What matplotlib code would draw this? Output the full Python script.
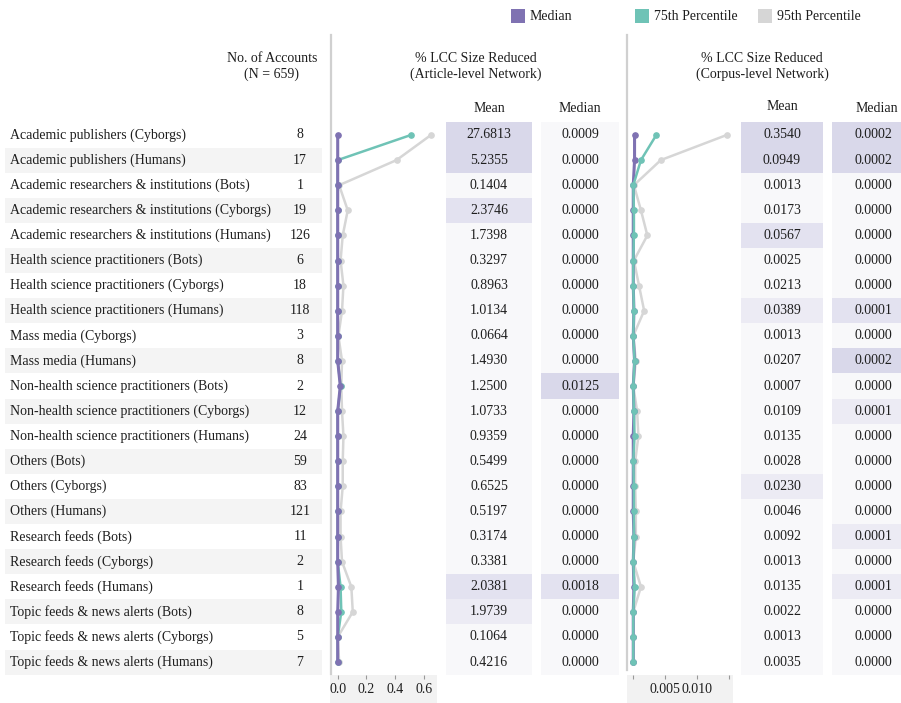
import matplotlib
matplotlib.use("Agg")
import matplotlib.pyplot as plt
from matplotlib.patches import Rectangle

plt.rcParams['font.family'] = ['Liberation Serif', 'DejaVu Serif']

# data
labels = [
    "Academic publishers (Cyborgs)", "Academic publishers (Humans)",
    "Academic researchers & institutions (Bots)", "Academic researchers & institutions (Cyborgs)",
    "Academic researchers & institutions (Humans)", "Health science practitioners (Bots)",
    "Health science practitioners (Cyborgs)", "Health science practitioners (Humans)",
    "Mass media (Cyborgs)", "Mass media (Humans)",
    "Non-health science practitioners (Bots)", "Non-health science practitioners (Cyborgs)",
    "Non-health science practitioners (Humans)", "Others (Bots)", "Others (Cyborgs)",
    "Others (Humans)", "Research feeds (Bots)", "Research feeds (Cyborgs)",
    "Research feeds (Humans)", "Topic feeds & news alerts (Bots)",
    "Topic feeds & news alerts (Cyborgs)", "Topic feeds & news alerts (Humans)",
]
counts = [8, 17, 1, 19, 126, 6, 18, 118, 3, 8, 2, 12, 24, 59, 83, 121, 11, 2, 1, 8, 5, 7]

article_mean = [27.6813, 5.2355, 0.1404, 2.3746, 1.7398, 0.3297, 0.8963, 1.0134, 0.0664, 1.4930, 1.2500,
                1.0733, 0.9359, 0.5499, 0.6525, 0.5197, 0.3174, 0.3381, 2.0381, 1.9739, 0.1064, 0.4216]
article_median = [0.0009, 0, 0, 0, 0, 0, 0, 0, 0, 0, 0.0125, 0, 0, 0, 0, 0, 0, 0, 0.0018, 0, 0, 0]
corpus_mean = [0.3540, 0.0949, 0.0013, 0.0173, 0.0567, 0.0025, 0.0213, 0.0389, 0.0013, 0.0207, 0.0007,
               0.0109, 0.0135, 0.0028, 0.0230, 0.0046, 0.0092, 0.0013, 0.0135, 0.0022, 0.0013, 0.0035]
corpus_median = [0.0002, 0.0002, 0, 0, 0, 0, 0, 0.0001, 0, 0.0002, 0, 0.0001, 0, 0, 0, 0, 0.0001, 0,
                 0.0001, 0, 0, 0]

# percentile lines
art_p50 = [0.0, 0.0, 0, 0, 0, 0, 0, 0, 0, 0, 0.018, 0, 0, 0, 0, 0, 0, 0, 0.005, 0, 0, 0]
art_p75 = [0.51, 0, 0, 0, 0, 0, 0, 0, 0, 0, 0.02, 0, 0, 0, 0, 0, 0, 0, 0.02, 0.025, 0, 0]
art_p95 = [0.65, 0.41, 0.01, 0.07, 0.035, 0.02, 0.04, 0.03, 0.005, 0.03, 0.025, 0.03, 0.04, 0.035,
           0.035, 0.02, 0.02, 0.03, 0.095, 0.105, 0.0, 0.01]
corp_p50 = corpus_median
corp_p75 = [0.0036, 0.0012, 0.0, 0.0001, 0.0001, 0, 0, 0.0001, 0, 0.0002, 0, 0.0001, 0.0002, 0, 0.0001,
            0.0001, 0.0001, 0, 0.0002, 0, 0, 0]
corp_p95 = [0.0146, 0.0043, 0.0001, 0.0012, 0.0022, 0.0001, 0.0009, 0.0017, 0.0, 0.0004, 0.0, 0.0006,
            0.0008, 0.0003, 0.0003, 0.0004, 0.0004, 0.0, 0.0012, 0.0, 0.0, 0.0]

# cell highlight level (0 = plain)
art_mean_hl = [3, 3, 0, 2, 0, 0, 0, 0, 0, 0, 0, 0, 0, 0, 0, 0, 0, 0, 2, 1, 0, 0]
art_median_hl = [0, 0, 0, 0, 0, 0, 0, 0, 0, 0, 3, 0, 0, 0, 0, 0, 0, 0, 2, 0, 0, 0]
corp_mean_hl = [3, 3, 0, 0, 2, 0, 0, 1, 0, 0, 0, 0, 0, 0, 1, 0, 0, 0, 0, 0, 0, 0]
corp_median_hl = [3, 3, 0, 0, 0, 0, 0, 2, 0, 3, 0, 1, 0, 0, 0, 0, 1, 0, 1, 0, 0, 0]

shades = {0: "#f8f8fa", 1: "#ecebf4", 2: "#e3e2f0", 3: "#d9d8ea"}
c_med = "#7f72b2"
c_75 = "#6fc3b6"
c_95 = "#d6d6d6"
txt = "#1e1e1e"

W, H = 901, 703
fig = plt.figure(figsize=(W / 100, H / 100), dpi=100)
bg = fig.add_axes([0, 0, 1, 1])
bg.set_xlim(0, W)
bg.set_ylim(H, 0)
bg.axis("off")

n = len(labels)
y0, dy = 135, 25.1
top = y0 - dy / 2
bottom = y0 + dy * (n - 1) + dy / 2


def px_box(x0, ya, x1, yb):
    return [x0 / W, 1 - yb / H, (x1 - x0) / W, (yb - ya) / H]


# legend
for sx, col, name in [(511, c_med, "Median"), (635, c_75, "75th Percentile"), (758, c_95, "95th Percentile")]:
    bg.add_patch(Rectangle((sx, 9), 14, 14, color=col, lw=0))
    bg.text(sx + 19, 16, name, fontsize=10, va="center", ha="left", color=txt)

# headers
bg.text(272, 58, "No. of Accounts", fontsize=10, ha="center", va="center", color=txt)
bg.text(272, 74, "(N = 659)", fontsize=10, ha="center", va="center", color=txt)
bg.text(476, 58, "% LCC Size Reduced", fontsize=10, ha="center", va="center", color=txt)
bg.text(476, 74, "(Article-level Network)", fontsize=10, ha="center", va="center", color=txt)
bg.text(762, 58, "% LCC Size Reduced", fontsize=10, ha="center", va="center", color=txt)
bg.text(762, 74, "(Corpus-level Network)", fontsize=10, ha="center", va="center", color=txt)
bg.text(489, 108, "Mean", fontsize=10, ha="center", va="center", color=txt)
bg.text(580, 108, "Median", fontsize=10, ha="center", va="center", color=txt)
bg.text(782, 107, "Mean", fontsize=10, ha="center", va="center", color=txt)
bg.text(877, 108, "Median", fontsize=10, ha="center", va="center", color=txt)

# separators
bg.plot([331, 331], [35, 674], color="#d0d0d0", lw=1.6)
bg.plot([627, 627], [35, 670], color="#d0d0d0", lw=1.6)
bg.add_patch(Rectangle((330, 675), 107, 28, color="#f2f2f2", lw=0))
bg.add_patch(Rectangle((627, 675), 106, 28, color="#f2f2f2", lw=0))

cols = [(446, 532, article_mean, art_mean_hl), (541, 619, article_median, art_median_hl),
        (741, 823, corpus_mean, corp_mean_hl), (832, 914, corpus_median, corp_median_hl)]

for i in range(n):
    yc = y0 + dy * i
    if i % 2 == 1:
        bg.add_patch(Rectangle((5, yc - dy / 2), 317, dy, color="#f4f4f4", lw=0))
    bg.text(10, yc, labels[i], fontsize=10, ha="left", va="center", color=txt)
    bg.text(300, yc, str(counts[i]), fontsize=10, ha="center", va="center", color=txt)
    for xa, xb, vals, hl in cols:
        bg.add_patch(Rectangle((xa, yc - dy / 2), xb - xa, dy, color=shades[hl[i]], lw=0))
        bg.text((xa + min(xb, 922)) / 2, yc, f"{vals[i]:.4f}", fontsize=10, ha="center", va="center",
                color=txt)

rows = list(range(n))


def line_panel(box, xlim, ticks, ticklabels, series):
    ax = fig.add_axes(px_box(*box))
    ax.patch.set_alpha(0)
    for vals, col, z, lw in series:
        ax.plot(vals, rows, color=col, lw=lw, marker="o", ms=3.8, zorder=z)
    ax.set_xlim(*xlim)
    ax.set_ylim(n - 0.5, -0.5)
    ax.set_yticks([])
    ax.set_xticks(ticks)
    ax.set_xticklabels(ticklabels, fontsize=10, color=txt)
    ax.tick_params(axis="x", length=3, color="#999999", pad=3)
    for s in ax.spines.values():
        s.set_visible(False)
    return ax


line_panel((330, top, 437, bottom), (-0.0537, 0.692), [0, 0.2, 0.4, 0.6], ["0.0", "0.2", "0.4", "0.6"],
           [(art_p95, c_95, 1, 1.8), (art_p75, c_75, 2, 1.8), (art_p50, c_med, 3, 2.2)])
line_panel((627, top, 735, bottom), (-0.00098, 0.0159), [0, 0.005, 0.010, 0.015],
           ["", "0.005", "0.010", ""],
           [(corp_p95, c_95, 1, 1.8), (corp_p50, c_med, 2, 2.2), (corp_p75, c_75, 3, 1.8)])

fig.savefig("out.png", dpi=100)
